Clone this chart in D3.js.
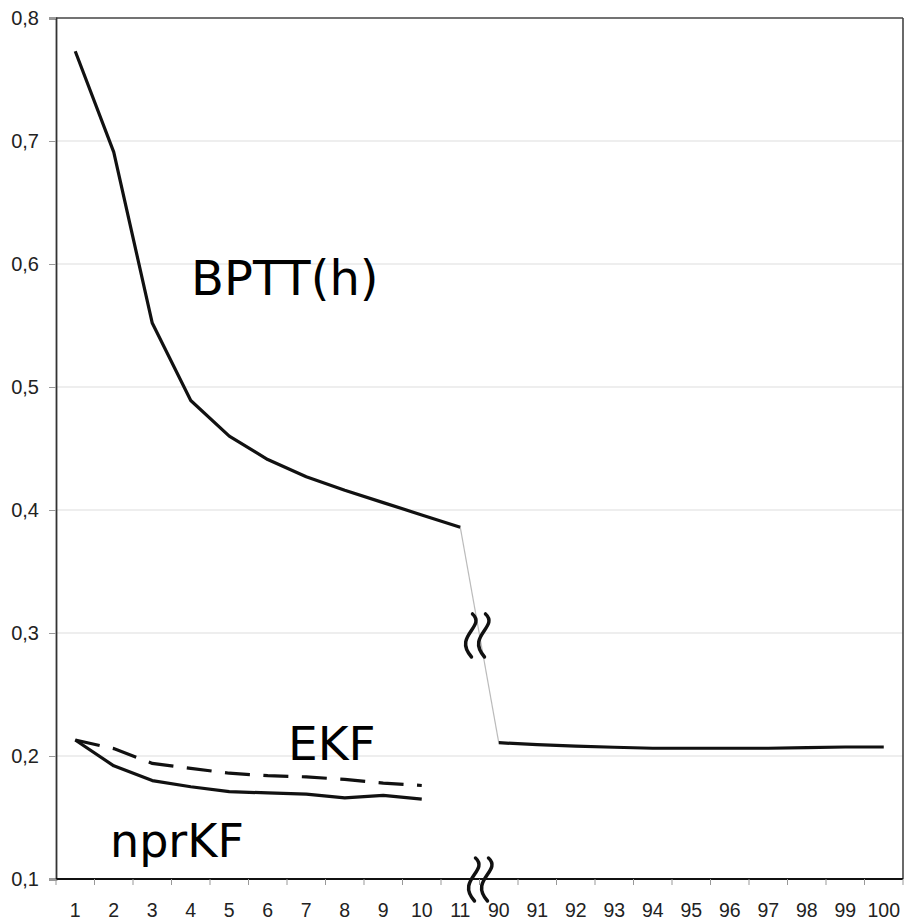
<!DOCTYPE html>
<html>
<head>
<meta charset="utf-8">
<script src="https://cdn.jsdelivr.net/npm/d3@7"></script>
<style>
body { margin: 0; background: #fff; }
svg { display: block; }
</style>
</head>
<body>
<div id="chart"></div>
<script>
// categories on the x axis (the axis is broken between 11 and 90)
var categories = ["1","2","3","4","5","6","7","8","9","10","11",
                  "90","91","92","93","94","95","96","97","98","99","100"];
var yTicks = [0.1, 0.2, 0.3, 0.4, 0.5, 0.6, 0.7, 0.8];

// BPTT(h): epochs 1..11, then 90..100
var bpttHead = [0.773, 0.691, 0.552, 0.489, 0.460, 0.441, 0.427, 0.416, 0.406, 0.396, 0.386];
var bpttTail = [0.2108, 0.2092, 0.2081, 0.2071, 0.2063, 0.2063, 0.2063, 0.2063, 0.2068, 0.2073, 0.2073];
// EKF (dashed) and nprKF (solid), epochs 1..10
var ekf   = [0.213, 0.206, 0.194, 0.190, 0.186, 0.184, 0.183, 0.181, 0.178, 0.176];
var nprkf = [0.213, 0.192, 0.180, 0.175, 0.171, 0.170, 0.169, 0.166, 0.168, 0.165];

var W = 904, H = 920;
var mLeft = 56, mRight = 903, mTop = 18, mBottom = 879;

var svg = d3.select("#chart").append("svg").attr("width", W).attr("height", H);

var x = d3.scaleBand().domain(categories).range([mLeft, mRight]).padding(0);
var y = d3.scaleLinear().domain([0.1, 0.8]).range([mBottom, mTop]);
var bw = x.bandwidth();
var cx = function(c) { return x(c) + bw / 2; };

// grid lines
svg.append("g").selectAll("line").data(yTicks.slice(1, -1)).enter().append("line")
  .attr("x1", mLeft).attr("x2", mRight)
  .attr("y1", function(d) { return y(d); }).attr("y2", function(d) { return y(d); })
  .attr("stroke", "#dedede").attr("stroke-width", 1.2);

// frame top / right
svg.append("line").attr("x1", mLeft).attr("x2", mRight).attr("y1", mTop).attr("y2", mTop)
  .attr("stroke", "#444").attr("stroke-width", 1.6);
svg.append("line").attr("x1", mRight).attr("x2", mRight).attr("y1", mTop).attr("y2", mBottom)
  .attr("stroke", "#444").attr("stroke-width", 1.6);

// y axis
var yAxis = svg.append("g").attr("transform", "translate(" + mLeft + ",0)")
  .call(d3.axisLeft(y).tickValues(yTicks).tickSize(7).tickPadding(10)
        .tickFormat(function(d) { return d3.format(".1f")(d).replace(".", ","); }));
yAxis.select(".domain").attr("stroke", "#333").attr("stroke-width", 1.8);
yAxis.selectAll(".tick line").attr("stroke", "#999");
yAxis.selectAll("text").attr("font-family", "Liberation Sans, Arial, sans-serif")
  .attr("font-size", 20).attr("fill", "#222");

// x axis: ticks sit on band boundaries
var xg = svg.append("g");
xg.append("line").attr("x1", mLeft).attr("x2", mRight).attr("y1", mBottom).attr("y2", mBottom)
  .attr("stroke", "#111").attr("stroke-width", 2);
var bounds = categories.map(function(c) { return x(c); }).concat([mRight]);
xg.selectAll("line.tk").data(bounds).enter().append("line").attr("class", "tk")
  .attr("x1", function(d) { return d; }).attr("x2", function(d) { return d; })
  .attr("y1", mBottom).attr("y2", mBottom + 6)
  .attr("stroke", "#999").attr("stroke-width", 1);
xg.selectAll("text").data(categories).enter().append("text")
  .attr("x", function(d) { return cx(d); }).attr("y", 917)
  .attr("text-anchor", "middle")
  .attr("font-family", "Liberation Sans, Arial, sans-serif")
  .attr("font-size", 19.5).attr("fill", "#222")
  .text(function(d) { return d; });

var line = d3.line().x(function(d) { return cx(d.c); }).y(function(d) { return y(d.v); });

var headPts = bpttHead.map(function(v, i) { return {c: categories[i], v: v}; });
var tailPts = bpttTail.map(function(v, i) { return {c: categories[11 + i], v: v}; });
var ekfPts = ekf.map(function(v, i) { return {c: categories[i], v: v}; });
var nprPts = nprkf.map(function(v, i) { return {c: categories[i], v: v}; });

// thin connector across the break
svg.append("path").attr("d", line([headPts[headPts.length - 1], tailPts[0]]))
  .attr("fill", "none").attr("stroke", "#bbb").attr("stroke-width", 1.2);

svg.append("path").attr("d", line(headPts))
  .attr("fill", "none").attr("stroke", "#111").attr("stroke-width", 3.2).attr("stroke-linejoin", "round");
svg.append("path").attr("d", line(tailPts))
  .attr("fill", "none").attr("stroke", "#111").attr("stroke-width", 3.2).attr("stroke-linejoin", "round");
svg.append("path").attr("d", line(ekfPts))
  .attr("fill", "none").attr("stroke", "#111").attr("stroke-width", 3.2)
  .attr("stroke-dasharray", "25,13.5");
svg.append("path").attr("d", line(nprPts))
  .attr("fill", "none").attr("stroke", "#111").attr("stroke-width", 3.2).attr("stroke-linejoin", "round");

// break marks (double squiggle)
function squiggle(x0, y0, h) {
  return "M" + x0 + "," + y0 +
    " C" + (x0 + 14) + "," + (y0 + h * 0.3) + " " + (x0 - 20) + "," + (y0 + h * 0.5) + " " + (x0 - 1) + "," + (y0 + h);
}
var bx = x("90");
var midY = (y(bpttHead[10]) + y(bpttTail[0])) / 2;
[[bx - 7, midY - 21], [bx + 6, midY - 21], [bx - 4, mBottom - 21], [bx + 9, mBottom - 21]].forEach(function(p) {
  svg.append("path").attr("d", squiggle(p[0], p[1], 43))
    .attr("fill", "none").attr("stroke", "#111").attr("stroke-width", 3.5).attr("stroke-linecap", "round");
});

// series labels
var labelFont = "DejaVu Sans, Verdana, sans-serif";
svg.append("text").attr("x", 191).attr("y", 295).attr("font-family", labelFont)
  .attr("font-size", 48).attr("fill", "#000").text("BPTT(h)");
svg.append("text").attr("x", 288).attr("y", 760).attr("font-family", labelFont)
  .attr("font-size", 47).attr("fill", "#000").text("EKF");
svg.append("text").attr("x", 110).attr("y", 857).attr("font-family", labelFont)
  .attr("font-size", 46).attr("fill", "#000").text("nprKF");
</script>
</body>
</html>
